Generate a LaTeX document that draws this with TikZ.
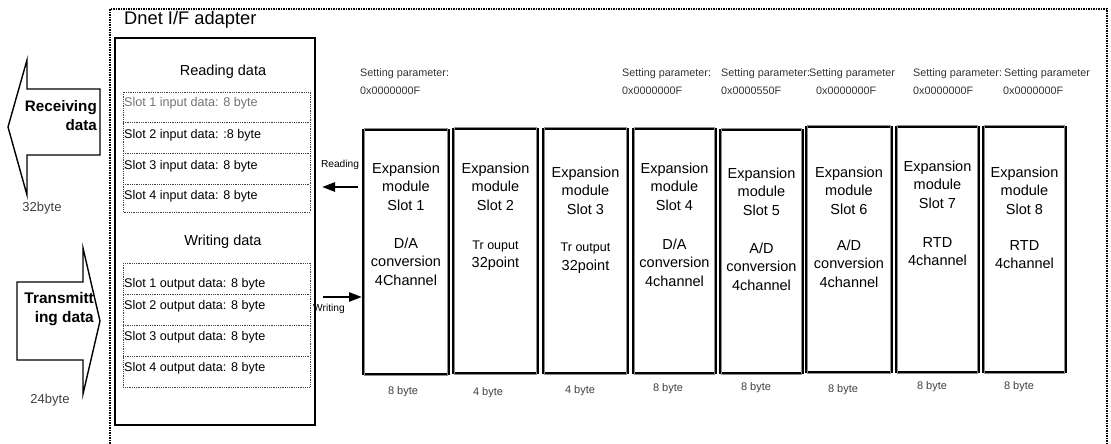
\documentclass[tikz,border=0pt]{standalone}
\usepackage{fontspec}
\setmainfont{Liberation Sans}
\usetikzlibrary{arrows.meta,calc}
\newcommand\fz[1]{\fontsize{#1}{#1}\selectfont}
\newcommand\linestack[5]{\foreach \t [count=\i from 0] in {#5}{\node[anchor=base,inner sep=0] (#1-\i) at (#2,{#3+\i*#4}) {\t};}}
\begin{document}
\begin{tikzpicture}[x=1pt,y=-1pt,
  outerdot/.style={densely dotted,line width=1.5pt},
  slotdot/.style={densely dotted,line width=0.8pt,black!75},
  modbox/.style={draw,line width=1.8pt,inner sep=0,outer sep=0},
  adbox/.style={draw,line width=1.8pt,inner sep=0,outer sep=0},
  bigarrow/.style={draw,line width=1.4pt,line join=miter},
  conn/.style={line width=2.6pt,-{Triangle[length=13pt,width=9pt]}},
  small/.style={font=\fz{10.8},text=black!80,inner sep=0},
  slottext/.style={font=\fz{12.6},anchor=base west,inner sep=0},
  bytelab/.style={font=\fz{11},text=black!75,anchor=base,inner sep=0},
  modtext/.style={font=\fz{14.5}},
]
\useasboundingbox (0,0) rectangle (1111,444);
% outer dotted frame
\coordinate (o1) at (110,446);
\coordinate (o2) at (110,9);
\coordinate (o3) at (1107,9);
\coordinate (o4) at (1107,446);
\draw[outerdot] (o1) -- (o2) -- (o3) -- (o4);
\node[anchor=base west,font=\fz{18.3},inner sep=0] (title) at (124,25) {Dnet I/F adapter};

% adapter box
\node[adbox,minimum width=200,minimum height=387] (adapter) at (215,231.5) {};
\node[anchor=base,font=\fz{14.5},inner sep=0] (rdh) at (223,76) {Reading data};
\node[anchor=base,font=\fz{14.5},inner sep=0] (wrh) at (223,245) {Writing data};

% reading slots
\draw[slotdot] (123,92) rectangle (310,212);
\draw[slotdot] (123,122) -- (310,122) (123,153) -- (310,153) (123,184) -- (310,184);
\node[slottext,text=black!55] (r1) at (124,106.5) {Slot 1 input data: 8 byte};
\node[slottext] (r2) at (124,138.5) {Slot 2 input data: :8 byte};
\node[slottext] (r3) at (124,169.5) {Slot 3 input data: 8 byte};
\node[slottext] (r4) at (124,199.5) {Slot 4 input data: 8 byte};
% writing slots
\draw[slotdot] (123,263) rectangle (310,387);
\draw[slotdot] (123,294) -- (310,294) (123,325) -- (310,325) (123,356) -- (310,356);
\node[slottext] (w1) at (124,287.5) {Slot 1 output data: 8 byte};
\node[slottext] (w2) at (124,309.5) {Slot 2 output data: 8 byte};
\node[slottext] (w3) at (124,340.5) {Slot 3 output data: 8 byte};
\node[slottext] (w4) at (124,371.5) {Slot 4 output data: 8 byte};

% big arrows
\draw[bigarrow] (100,89) -- (27,89) -- (27,60) -- (8,127) -- (27,195) -- (27,155) -- (100,155) -- cycle;
\node[anchor=base east,font=\bfseries\fz{15.2},inner sep=0] (rv1) at (97,111) {Receiving};
\node[anchor=base east,font=\bfseries\fz{15.2},inner sep=0] (rv2) at (97,130) {data};
\node[anchor=base,font=\fz{13},text=black!75,inner sep=0] (b32) at (42,211.5) {32byte};

\draw[bigarrow] (17,282) -- (83,282) -- (83,248) -- (100,321) -- (83,394) -- (83,360) -- (17,360) -- cycle;
\node[anchor=base east,font=\bfseries\fz{15.4},inner sep=0] (tr1) at (94,303) {Transmitt};
\node[anchor=base east,font=\bfseries\fz{15.4},inner sep=0] (tr2) at (94,322) {ing data};
\node[anchor=base,font=\fz{13},text=black!75,inner sep=0] (b24) at (50,403) {24byte};

% module boxes
\foreach \n/\cx/\cy/\w/\h in {1/406/252/86/244, 2/495.5/251/85/244, 3/585.5/251/85/244, 4/674.5/251/83/244,
  5/761.5/251.5/83/243, 6/849/249.5/86/245, 7/937.5/249.5/83/245, 8/1024.5/249.5/83/245}{
  \node[modbox,minimum width=\w,minimum height=\h] (m\n) at (\cx,\cy) {};
  \draw[black!45,line width=0.7pt] ($(m\n.south west)+(1.8,1.8)$) rectangle ($(m\n.north east)+(-1.8,-1.8)$);
}
\begin{scope}[every node/.style={modtext}]
\linestack{m1a}{406}{173}{18.5}{Expansion,module,Slot 1}
\linestack{m1b}{406}{248}{18.5}{D/A,conversion,4Channel}
\linestack{m2a}{495.5}{173}{18.5}{Expansion,module,Slot 2}
\linestack{m3a}{585.5}{177}{18.5}{Expansion,module,Slot 3}
\linestack{m4a}{674.5}{173}{18.5}{Expansion,module,Slot 4}
\linestack{m4b}{674.5}{249}{18.5}{D/A,conversion,4channel}
\linestack{m5a}{761.5}{178}{18.5}{Expansion,module,Slot 5}
\linestack{m5b}{761.5}{253}{18.5}{A/D,conversion,4channel}
\linestack{m6a}{849}{177}{18.5}{Expansion,module,Slot 6}
\linestack{m6b}{849}{250}{18.5}{A/D,conversion,4channel}
\linestack{m7a}{937.5}{171}{18.5}{Expansion,module,Slot 7}
\linestack{m7b}{937.5}{247}{18.5}{RTD,4channel}
\linestack{m8a}{1024.5}{177}{18.5}{Expansion,module,Slot 8}
\linestack{m8b}{1024.5}{250}{18.5}{RTD,4channel}
\end{scope}
\node[anchor=base,font=\fz{12.5},inner sep=0] (m2b) at (495.5,249.5) {Tr ouput};
\node[anchor=base,font=\fz{14.5},inner sep=0] (m2c) at (495.5,267) {32point};
\node[anchor=base,font=\fz{12.5},inner sep=0] (m3b) at (585.5,251.5) {Tr output};
\node[anchor=base,font=\fz{14.5},inner sep=0] (m3c) at (585.5,270) {32point};

% byte labels
\node[bytelab] (y1) at (403,394) {8 byte};
\node[bytelab] (y2) at (488,395) {4 byte};
\node[bytelab] (y3) at (580,393) {4 byte};
\node[bytelab] (y4) at (668,391) {8 byte};
\node[bytelab] (y5) at (756,390) {8 byte};
\node[bytelab] (y6) at (843,392) {8 byte};
\node[bytelab] (y7) at (932,389) {8 byte};
\node[bytelab] (y8) at (1019,389) {8 byte};

% setting parameters
\node[small,anchor=base west] (s1a) at (360,77) {Setting parameter:};
\node[small,anchor=base west] (s1b) at (360,95) {0x0000000F};
\node[small,anchor=base west] (s4a) at (622,77) {Setting parameter:};
\node[small,anchor=base west] (s4b) at (622,95) {0x0000000F};
\node[small,anchor=base west] (s5a) at (721,77) {Setting parameter:};
\node[small,anchor=base west] (s5b) at (721,95) {0x0000550F};
\node[small,anchor=base west] (s6a) at (809,77) {Setting parameter};
\node[small,anchor=base west] (s6b) at (816,95) {0x0000000F};
\node[small,anchor=base west] (s7a) at (913,77) {Setting parameter:};
\node[small,anchor=base west] (s7b) at (913,95) {0x0000000F};
\node[small,anchor=base west] (s8a) at (1004,77) {Setting parameter};
\node[small,anchor=base west] (s8b) at (1003,95) {0x0000000F};

% reading / writing connectors
\coordinate (rdy) at (0,187);
\coordinate (wry) at (0,297);
\draw[conn,shorten <=5pt,shorten >=7pt] (m1.west |- rdy) -- (adapter.east |- rdy);
\draw[conn,shorten <=8pt,shorten >=1pt] (adapter.east |- wry) -- (m1.west |- wry);
\node[anchor=base,font=\fz{10.2},inner sep=0] (rdl) at (340,167) {Reading};
\node[anchor=base,font=\fz{10.2},inner sep=0] (wrl) at (329,311) {Writing};
\end{tikzpicture}
\end{document}
